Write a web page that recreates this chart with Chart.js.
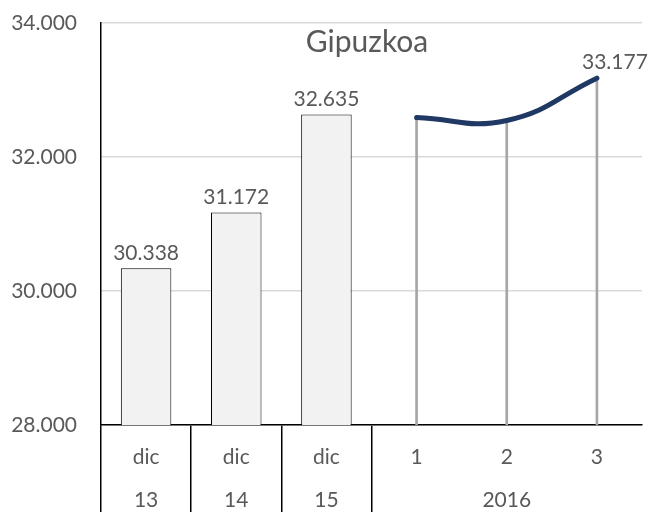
<!DOCTYPE html>
<html>
<head>
<meta charset="utf-8">
<script src="https://cdn.jsdelivr.net/npm/chart.js@4"></script>
<style>
  html, body { margin: 0; padding: 0; background: #fff; }
  #wrap { width: 651px; height: 512px; }
</style>
</head>
<body>
<div id="wrap"><canvas id="grafico"></canvas></div>
<script>
// eje x en dos niveles
const nivel1 = ["dic", "dic", "dic", "1", "2", "3"];
const nivel2 = ["13", "14", "15", "2016", "2016", "2016"];
// cierre de año (barras) y meses 2016 (línea)
const cierres = [30338, 31172, 32635, null, null, null];
const meses2016 = [null, null, null, 32590, 32545, 33177];
const yTicks = [28000, 30000, 32000, 34000];

const fmt = v => String(Math.round(v)).replace(/\B(?=(\d{3})+(?!\d))/g, ".");
const gris = "#595959";

// líneas verticales de cada punto mensual hasta el eje
const caidas = meses2016.map(v => v == null ? null : [yTicks[0], v]);

const textos = {
  id: "textos",
  afterDatasetsDraw(chart) {
    const ctx = chart.ctx;
    const x = chart.scales.x;
    ctx.save();
    ctx.fillStyle = gris;
    ctx.textAlign = "center";

    // valores sobre las barras
    ctx.font = "21px Lato";
    ctx.textBaseline = "bottom";
    chart.getDatasetMeta(1).data.forEach((el, i) => {
      if (cierres[i] == null) return;
      ctx.fillText(fmt(cierres[i]), el.x, el.y - 5);
    });
    const ml = chart.getDatasetMeta(0).data;
    const last = meses2016.length - 1;
    ctx.fillText(fmt(meses2016[last]), ml[last].x + 18, ml[last].y - 5);

    // título dentro del área
    ctx.font = "30px Lato";
    ctx.textBaseline = "alphabetic";
    ctx.fillText("Gipuzkoa", 367, 52);

    // etiquetas del eje x
    ctx.font = "21px Lato";
    ctx.textBaseline = "middle";
    nivel1.forEach((t, i) => ctx.fillText(t, x.getPixelForValue(i), x.bottom - 55));
    const vistos = {};
    nivel2.forEach((t, i) => {
      if (vistos[t]) return;
      const idx = nivel2.map((u, j) => u === t ? j : -1).filter(j => j >= 0);
      const px = (x.getPixelForValue(idx[0]) + x.getPixelForValue(idx[idx.length - 1])) / 2;
      ctx.fillText(t, px, x.bottom - 12);
      vistos[t] = true;
    });
    ctx.restore();
  }
};

new Chart(document.getElementById("grafico"), {
  data: {
    labels: nivel1.map((t, i) => t + " " + nivel2[i]),
    datasets: [
      {
        type: "line",
        data: meses2016,
        borderColor: "#203864",
        borderWidth: 5,
        tension: 0.45,
        pointRadius: 0,
        borderCapStyle: "round",
        order: 0
      },
      {
        type: "bar",
        data: cierres,
        backgroundColor: "#f2f2f2",
        borderColor: "#000000",
        borderWidth: 1,
        barPercentage: 0.56,
        categoryPercentage: 1,
        grouped: false,
        order: 1
      },
      {
        type: "bar",
        data: caidas,
        backgroundColor: "#a6a6a6",
        borderWidth: 0,
        barThickness: 2,
        grouped: false,
        order: 2
      }
    ]
  },
  options: {
    responsive: true,
    maintainAspectRatio: false,
    animation: false,
    layout: { padding: { top: 23, right: 9, bottom: 0, left: 0 } },
    plugins: { legend: { display: false }, tooltip: { enabled: false } },
    scales: {
      x: {
        offset: true,
        grid: {
          drawOnChartArea: false,
          drawTicks: true,
          tickLength: 87,
          color: c => (c.index <= 3 || c.index === 6) ? "#000000" : "rgba(0,0,0,0)",
          lineWidth: 1.5
        },
        border: { display: true, color: "#000000", width: 1.5 },
        ticks: { display: false }
      },
      y: {
        min: 28000,
        max: 34000,
        afterFit(scale) {
          scale.width = 101;
          scale.paddingTop = 0;
          scale.paddingBottom = 0;
        },
        afterBuildTicks(scale) { scale.ticks = yTicks.map(v => ({ value: v })); },
        grid: { color: "#d9d9d9", lineWidth: 1.5, drawTicks: false },
        border: { display: true, color: "#000000", width: 1.5 },
        ticks: {
          color: gris,
          font: { family: "Lato", size: 21 },
          padding: 24,
          callback: v => fmt(v)
        }
      }
    }
  },
  plugins: [textos]
});
</script>
</body>
</html>
